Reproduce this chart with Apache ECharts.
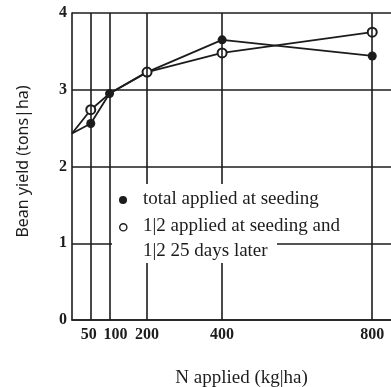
<!DOCTYPE html>
<html>
<head>
<meta charset="utf-8">
<script src="https://cdn.jsdelivr.net/npm/echarts@6/dist/echarts.min.js"></script>
<style>
html,body{margin:0;padding:0;background:#fff;}
#chart{width:391px;height:387px;}
</style>
</head>
<body>
<div id="chart"></div>
<script>
// Nitrogen rate (kg/ha) and bean yield (tons/ha)
const nRates = [0, 50, 100, 200, 400, 800];
const yieldAtSeeding = [2.43, 2.56, 2.95, 3.23, 3.65, 3.44];
const yieldSplit = [2.43, 2.74, 2.95, 3.23, 3.48, 3.75];
const xTicks = [50, 100, 200, 400, 800];
const yTicks = [0, 1, 2, 3, 4];
const seriesNames = ['total applied at seeding', '1|2 applied at seeding and'];
const legendSecondLine = '1|2 25 days later';

const ink = '#1c1c1c';
const serif = '"Liberation Serif", "DejaVu Serif", serif';
const sans = '"Noto Sans", "Liberation Sans", sans-serif';

const chart = echarts.init(document.getElementById('chart'));

function pts(vals, hideAt) {
  return nRates.map((x, i) => {
    const p = { value: [x, vals[i]] };
    if (i === 0 || hideAt.includes(x)) p.symbol = 'none';
    return p;
  });
}

const legendFont = '19px ' + serif;
const tickFont = { fontFamily: serif, fontWeight: 'bold', fontSize: 16, color: ink };

chart.setOption({
  animation: false,
  backgroundColor: '#fff',
  grid: { left: 72, top: 13, right: 0, bottom: 67, outerBoundsMode: 'none' },
  xAxis: {
    type: 'value', min: 0, max: 850,
    name: 'N applied (kg|ha)', nameLocation: 'middle', nameGap: 49,
    nameTextStyle: { fontFamily: serif, fontSize: 19, color: ink, padding: [0, 0, 0, 20] },
    axisLine: { show: true, lineStyle: { color: ink, width: 1.6 } },
    axisTick: { show: false },
    splitLine: { show: false },
    axisLabel: {
      customValues: xTicks, margin: 7,
      ...tickFont,
      // the two crowded labels at the left are nudged apart
      formatter: v => v === 50 ? '{l|50}' : v === 100 ? '{r|100}' : String(v),
      rich: {
        l: { ...tickFont, padding: [0, 4, 0, 0] },
        r: { ...tickFont, padding: [0, 0, 0, 12] }
      }
    }
  },
  yAxis: {
    type: 'value', min: 0, max: 4, interval: 1,
    name: 'Bean yield (tons|ha)', nameLocation: 'middle', nameGap: 41,
    nameTextStyle: { fontFamily: sans, fontSize: 16, color: ink, padding: [0, 0, 0, 10] },
    axisLine: { show: true, lineStyle: { color: ink, width: 1.6 } },
    axisTick: { show: false },
    splitLine: { show: true, lineStyle: { color: ink, width: 1.6 } },
    axisLabel: {
      margin: 5, ...tickFont,
      formatter: v => yTicks.includes(v) ? String(v) : ''
    }
  },
  series: [
    {
      name: seriesNames[0], type: 'line', z: 3,
      data: pts(yieldAtSeeding, [200]),
      symbol: 'circle', symbolSize: 9,
      lineStyle: { color: ink, width: 1.8 },
      itemStyle: { color: ink },
      markLine: {
        silent: true, symbol: 'none', label: { show: false },
        lineStyle: { color: ink, width: 1.6, type: 'solid' },
        data: xTicks.map(v => ({ xAxis: v }))
      }
    },
    {
      name: seriesNames[1], type: 'line', z: 4,
      data: pts(yieldSplit, [100]),
      symbol: 'emptyCircle', symbolSize: 9,
      lineStyle: { color: ink, width: 1.8 },
      itemStyle: { color: ink, borderWidth: 1.5 }
    }
  ],
  graphic: [
    // key panel: white backing interrupts the grid lines behind the text
    { type: 'rect', z: 100, left: 112, top: 184, shape: { width: 234, height: 55 }, style: { fill: '#fff' } },
    { type: 'rect', z: 100, left: 112, top: 239, shape: { width: 165, height: 24 }, style: { fill: '#fff' } },
    { type: 'circle', z: 101, left: 119, top: 196, shape: { r: 4 }, style: { fill: ink } },
    { type: 'text', z: 101, left: 143, top: 190, style: { text: seriesNames[0], font: legendFont, fill: ink } },
    { type: 'circle', z: 101, left: 119, top: 223, shape: { r: 3.6 }, style: { fill: '#fff', stroke: ink, lineWidth: 1.4 } },
    { type: 'text', z: 101, left: 143, top: 217, style: { text: seriesNames[1], font: legendFont, fill: ink } },
    { type: 'text', z: 101, left: 143, top: 242, style: { text: legendSecondLine, font: legendFont, fill: ink } }
  ]
});
</script>
</body>
</html>
